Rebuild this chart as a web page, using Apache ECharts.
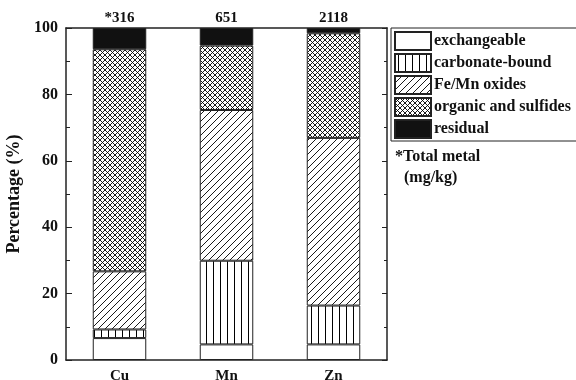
<!DOCTYPE html>
<html>
<head>
<meta charset="utf-8">
<script src="https://cdn.jsdelivr.net/npm/echarts@6/dist/echarts.min.js"></script>
<style>
  html, body { margin: 0; padding: 0; background: #fff; }
  #main { width: 576px; height: 380px; }
</style>
</head>
<body>
<div id="main"></div>
<script>
// metals and fractions (% of total)
var metals = ['Cu', 'Mn', 'Zn'];
var totals = ['*316', '651', '2118'];
var exchangeable = [6.6, 4.7, 4.7];
var carbonate = [2.6, 25.2, 11.7];
var feMnOxides = [17.5, 45.4, 50.5];
var organic = [66.9, 19.4, 31.5];
var residual = [6.4, 5.3, 1.6];
var fractionNames = ['exchangeable', 'carbonate-bound', 'Fe/Mn oxides', 'organic and sulfides', 'residual'];

var FONT = 'Liberation Serif';

// hatch tiles
function tile(size, draw) {
  var c = document.createElement('canvas');
  c.width = size; c.height = size;
  var ctx = c.getContext('2d');
  ctx.fillStyle = '#fff';
  ctx.fillRect(0, 0, size, size);
  ctx.strokeStyle = '#000';
  draw(ctx, size);
  return { image: c, repeat: 'repeat' };
}
var vertPat = tile(7, function (ctx, s) {
  ctx.lineWidth = 1;
  ctx.beginPath(); ctx.moveTo(3.5, 0); ctx.lineTo(3.5, s); ctx.stroke();
});
var diagPat = tile(7, function (ctx, s) {
  ctx.lineWidth = 0.9;
  ctx.beginPath();
  ctx.moveTo(0, s); ctx.lineTo(s, 0);
  ctx.moveTo(-1, 1); ctx.lineTo(1, -1);
  ctx.moveTo(s - 1, s + 1); ctx.lineTo(s + 1, s - 1);
  ctx.stroke();
});
var crossPat = tile(5, function (ctx, s) {
  ctx.lineWidth = 0.9;
  ctx.beginPath();
  ctx.moveTo(0, s); ctx.lineTo(s, 0);
  ctx.moveTo(0, 0); ctx.lineTo(s, s);
  ctx.moveTo(-1, 1); ctx.lineTo(1, -1);
  ctx.moveTo(s - 1, s + 1); ctx.lineTo(s + 1, s - 1);
  ctx.moveTo(-1, s - 1); ctx.lineTo(1, s + 1);
  ctx.moveTo(s - 1, -1); ctx.lineTo(s + 1, 1);
  ctx.stroke();
});

var fills = ['#fff', vertPat, diagPat, crossPat, '#111'];
var values = [exchangeable, carbonate, feMnOxides, organic, residual];

var series = fractionNames.map(function (name, i) {
  var s = {
    name: name,
    type: 'bar',
    stack: 'all',
    barWidth: '50%',
    data: values[i],
    itemStyle: { color: fills[i], borderColor: '#222', borderWidth: 1 }
  };
  if (i === fractionNames.length - 1) {
    s.label = {
      show: true,
      position: 'top',
      distance: 2,
      fontFamily: FONT,
      fontWeight: 'bold',
      fontSize: 15,
      color: '#111',
      formatter: function (p) { return totals[p.dataIndex]; }
    };
  }
  return s;
});

var myChart = echarts.init(document.getElementById('main'));
var option = {
  animation: false,
  backgroundColor: '#fff',
  grid: { left: 66, right: 189, top: 28, bottom: 20, outerBoundsMode: 'none', containLabel: false },
  legend: {
    orient: 'vertical',
    left: 391,
    top: 28,
    data: fractionNames,
    itemWidth: 36,
    itemHeight: 18,
    itemGap: 2,
    icon: 'rect',
    padding: [3, 10, 2, 3],
    borderColor: '#222',
    borderWidth: 1,
    selectedMode: false,
    textStyle: { fontFamily: FONT, fontWeight: 'bold', fontSize: 16, color: '#111', padding: [0, 0, 0, -2] }
  },
  graphic: [
    { type: 'text', left: 395, top: 149, style: { text: '*Total metal', font: 'bold 16px "Liberation Serif"', fill: '#111' } },
    { type: 'text', left: 404, top: 170, style: { text: '(mg/kg)', font: 'bold 16px "Liberation Serif"', fill: '#111' } }
  ],
  xAxis: [{
    type: 'category',
    data: metals,
    axisLine: { lineStyle: { color: '#222', width: 1.5 } },
    axisTick: { inside: true, alignWithLabel: true, length: 6, lineStyle: { color: '#222' } },
    axisLabel: { fontFamily: FONT, fontWeight: 'bold', fontSize: 15, color: '#111', margin: 9 }
  }, {
    type: 'category',
    data: metals,
    position: 'bottom',
    axisLine: { show: false },
    axisTick: { inside: true, length: 3, lineStyle: { color: '#222' } },
    axisLabel: { show: false }
  }, {
    type: 'category',
    data: metals,
    position: 'top',
    axisLine: { lineStyle: { color: '#222', width: 1.5 } },
    axisTick: { show: false },
    axisLabel: { show: false }
  }],
  yAxis: [{
    type: 'value',
    min: 0,
    max: 100,
    interval: 20,
    name: 'Percentage (%)',
    nameLocation: 'middle',
    nameGap: 37,
    nameTextStyle: { fontFamily: FONT, fontWeight: 'bold', fontSize: 18, color: '#111' },
    axisLine: { show: true, lineStyle: { color: '#222', width: 1.5 } },
    axisTick: { show: true, inside: true, length: 6, lineStyle: { color: '#222' } },
    minorTick: { show: true, splitNumber: 2, length: 4, lineStyle: { color: '#222' } },
    splitLine: { show: false },
    axisLabel: { fontFamily: FONT, fontWeight: 'bold', fontSize: 16, color: '#111', margin: 8 }
  }, {
    type: 'value',
    min: 0,
    max: 100,
    interval: 20,
    position: 'right',
    axisLine: { show: true, lineStyle: { color: '#222', width: 1.5 } },
    axisTick: { show: true, inside: true, length: 5, lineStyle: { color: '#222' } },
    minorTick: { show: true, splitNumber: 2, length: 3, lineStyle: { color: '#222' } },
    splitLine: { show: false },
    axisLabel: { show: false }
  }],
  series: series
};
myChart.setOption(option);
</script>
</body>
</html>
